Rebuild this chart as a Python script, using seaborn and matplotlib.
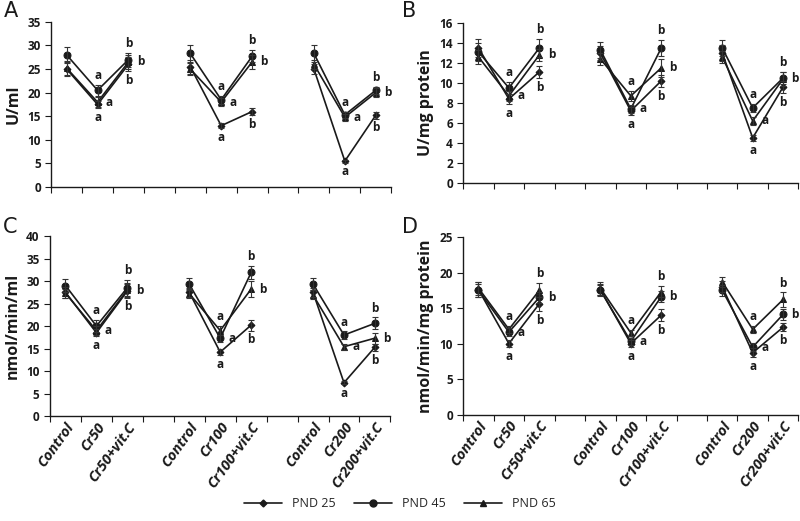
"""
Line chart with error bars: four panels (A-D), three PND series per panel.
"""

import numpy as np
import pandas as pd
import matplotlib
matplotlib.use("Agg")
import matplotlib.pyplot as plt
import matplotlib.transforms as mtransforms
from matplotlib.lines import Line2D
import seaborn as sns

### Data ###

GROUPS = ["50", "100", "200"]
SERIES = ["PND 25", "PND 45", "PND 65"]
LETTERS = ["", "a", "b"]

A_PND25 = [25.0, 17.5, 26.0, 25.5, 13.0, 16.0, 25.0, 5.5, 15.2]
A_PND45 = [28.0, 20.5, 27.0, 28.3, 18.5, 27.7, 28.3, 15.3, 20.5]
A_PND65 = [25.2, 18.0, 26.5, 25.0, 18.0, 26.5, 26.0, 14.8, 20.0]
A_ERR25 = [1.5, 0.8, 1.5, 1.5, 0.5, 0.8, 1.0, 0.3, 0.7]
A_ERR45 = [1.7, 1.2, 1.5, 1.7, 0.8, 1.3, 1.8, 0.7, 0.8]
A_ERR65 = [1.5, 1.0, 1.5, 1.3, 0.8, 1.5, 1.0, 0.7, 1.0]

B_PND25 = [13.5, 8.4, 11.1, 13.0, 7.2, 10.2, 13.0, 4.5, 9.6]
B_PND45 = [13.1, 9.5, 13.5, 13.3, 7.4, 13.5, 13.5, 7.5, 10.5]
B_PND65 = [12.6, 8.7, 12.8, 12.4, 8.7, 11.5, 12.6, 6.2, 10.4]
B_ERR25 = [0.9, 0.5, 0.6, 0.7, 0.4, 0.6, 0.8, 0.3, 0.6]
B_ERR45 = [0.9, 0.6, 0.9, 0.8, 0.4, 0.8, 0.8, 0.4, 0.6]
B_ERR65 = [0.7, 0.5, 0.6, 0.6, 0.5, 0.9, 0.6, 0.4, 0.7]

C_PND25 = [27.5, 18.5, 27.8, 27.5, 14.2, 20.2, 27.5, 7.4, 15.3]
C_PND45 = [29.0, 20.0, 28.5, 29.3, 17.3, 31.9, 29.3, 18.0, 20.6]
C_PND65 = [27.3, 19.0, 28.0, 27.2, 19.0, 28.2, 26.9, 15.4, 17.3]
C_ERR25 = [1.2, 0.8, 1.5, 1.0, 0.6, 1.2, 1.0, 0.3, 0.8]
C_ERR45 = [1.4, 1.3, 1.8, 1.4, 0.8, 1.5, 1.4, 0.8, 1.3]
C_ERR65 = [1.0, 1.0, 1.5, 1.0, 1.0, 1.8, 1.0, 0.7, 1.2]

D_PND25 = [17.6, 10.0, 15.6, 17.6, 10.0, 14.0, 18.0, 8.7, 12.3]
D_PND45 = [17.5, 11.6, 16.5, 17.5, 10.3, 16.6, 17.5, 9.5, 14.1]
D_PND65 = [17.8, 12.0, 17.5, 17.8, 11.5, 17.3, 18.7, 12.0, 16.2]
D_ERR25 = [1.0, 0.5, 1.0, 0.8, 0.5, 0.8, 0.8, 0.6, 0.6]
D_ERR45 = [0.9, 0.6, 0.8, 0.8, 0.5, 0.8, 0.8, 0.6, 0.8]
D_ERR65 = [0.9, 0.5, 1.0, 0.9, 0.4, 0.8, 0.7, 0.5, 1.0]

### Style ###

sns.set_style("ticks")
plt.rcParams["font.family"] = ["Open Sans", "DejaVu Sans"]

MARKERS = {"PND 25": "D", "PND 45": "o", "PND 65": "^"}
MSIZE = {"PND 25": 3.5, "PND 45": 5, "PND 65": 5}
INK = "#1a1a1a"


def tick_labels():
    labels = []
    for i, g in enumerate(GROUPS):
        labels += ["Control", "Cr" + g, "Cr" + g + "+vit.C"]
        if i < len(GROUPS) - 1:
            labels.append("")
    return labels


def build_frame(values, errors):
    rows = []
    for name, vals, errs in zip(SERIES, values, errors):
        for k, (v, e) in enumerate(zip(vals, errs)):
            g, j = divmod(k, 3)
            rows.append({"series": name, "group": g, "pos": 4 * g + j,
                         "value": v, "err": e, "letter": LETTERS[j]})
    return pd.DataFrame(rows)


def draw_panel(ax, df, ymax, ystep, ylabel, show_labels):
    sns.lineplot(data=df, x="pos", y="value", style="series", units="group",
                 estimator=None, markers=MARKERS, dashes=False, color=INK,
                 lw=1.2, markeredgecolor=INK, legend=False, ax=ax)
    for name in SERIES:
        sub = df[df.series == name]
        ax.errorbar(sub.pos, sub.value, yerr=sub.err, fmt="none",
                    ecolor="#333333", elinewidth=0.8, capsize=2.5, capthick=0.8)
    # resize markers per series
    for line in ax.lines:
        m = line.get_marker()
        for name, mk in MARKERS.items():
            if m == mk:
                line.set_markersize(MSIZE[name])

    # significance letters: top above, middle right, bottom below
    for pos, sub in df[df.letter != ""].groupby("pos"):
        sub = sub.sort_values("value", ascending=False)
        for rank, (_, r) in enumerate(sub.iterrows()):
            if rank == 0:
                ax.annotate(r.letter, (pos, r.value + r.err), xytext=(0, 2),
                            textcoords="offset points", ha="center", va="bottom",
                            fontsize=8.5, color=INK, fontweight="bold")
            elif rank == 1:
                ax.annotate(r.letter, (pos, r.value), xytext=(6, 0),
                            textcoords="offset points", ha="left", va="center",
                            fontsize=8.5, color=INK, fontweight="bold")
            else:
                ax.annotate(r.letter, (pos, r.value - r.err), xytext=(0, -2),
                            textcoords="offset points", ha="center", va="top",
                            fontsize=8.5, color=INK, fontweight="bold")

    ax.set_xlim(-0.5, 10.5)
    ax.set_ylim(0, ymax)
    ax.set_yticks(np.arange(0, ymax + 0.1, ystep))
    ax.set_yticklabels([f"{int(v)}" for v in np.arange(0, ymax + 0.1, ystep)],
                       fontweight="bold")
    ax.set_xticks(np.arange(-0.5, 11, 1))
    ax.set_xticklabels([])
    ax.set_xticks(np.arange(11), minor=True)
    if show_labels:
        ax.set_xticklabels(tick_labels(), minor=True, rotation=54, ha="right",
                           rotation_mode="anchor", fontstyle="italic",
                           fontweight="bold", fontsize=10.5, color=INK)
        shift = mtransforms.ScaledTranslation(0.14, -0.04, ax.figure.dpi_scale_trans)
        for lab in ax.get_xticklabels(minor=True):
            lab.set_transform(lab.get_transform() + shift)
    else:
        ax.set_xticklabels([], minor=True)
    ax.tick_params(axis="x", which="minor", length=0, pad=3)
    ax.tick_params(axis="x", which="major", length=4, width=0.8, color=INK)
    ax.tick_params(axis="y", length=4, width=0.8, color=INK, labelsize=8.5,
                   labelcolor=INK)
    ax.set_xlabel("")
    ax.set_ylabel(ylabel, fontsize=11.5, color=INK, fontweight="bold", labelpad=4)
    for s in ("left", "bottom"):
        ax.spines[s].set_linewidth(1.0)
        ax.spines[s].set_color(INK)
    sns.despine(ax=ax)
    return ax


fig = plt.figure(figsize=(8, 5.21), dpi=100)

ax_a = fig.add_axes([0.064, 0.641, 0.425, 0.317])
ax_b = fig.add_axes([0.579, 0.649, 0.419, 0.307])
ax_c = fig.add_axes([0.0625, 0.2015, 0.4255, 0.3455])
ax_d = fig.add_axes([0.579, 0.2044, 0.419, 0.3407])

draw_panel(ax_a, build_frame([A_PND25, A_PND45, A_PND65], [A_ERR25, A_ERR45, A_ERR65]),
           35, 5, "U/ml", False)
draw_panel(ax_b, build_frame([B_PND25, B_PND45, B_PND65], [B_ERR25, B_ERR45, B_ERR65]),
           16, 2, "U/mg protein", False)
draw_panel(ax_c, build_frame([C_PND25, C_PND45, C_PND65], [C_ERR25, C_ERR45, C_ERR65]),
           40, 5, "nmol/min/ml", True)
draw_panel(ax_d, build_frame([D_PND25, D_PND45, D_PND65], [D_ERR25, D_ERR45, D_ERR65]),
           25, 5, "nmol/min/mg protein", True)

# panel letters
for x, y, t in [(0.005, 0.96, "A"), (0.502, 0.96, "B"), (0.003, 0.545, "C"), (0.502, 0.545, "D")]:
    fig.text(x, y, t, fontsize=15, color=INK, ha="left", va="bottom",
             family=["DejaVu Sans"])

handles = [Line2D([], [], color=INK, lw=1.2, marker=MARKERS[s], markersize=MSIZE[s],
                  markeredgecolor=INK) for s in SERIES]
fig.legend(handles, SERIES, loc="center", bbox_to_anchor=(0.5, 0.033), ncol=3,
           frameon=False, handlelength=3, columnspacing=1.5,
           prop={"size": 9})

plt.savefig("out.png", dpi=100)
